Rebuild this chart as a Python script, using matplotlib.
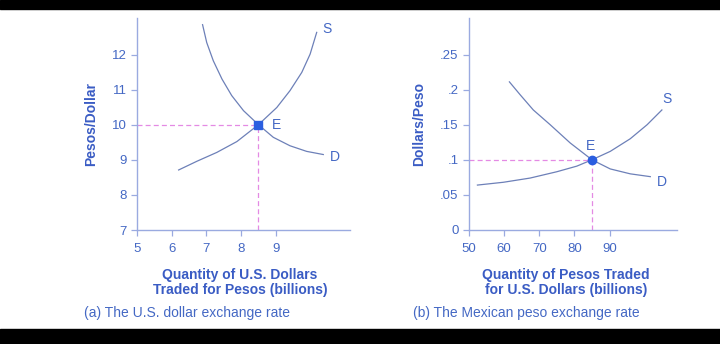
import numpy as np
import matplotlib.pyplot as plt

plt.rcParams["font.family"] = ["Liberation Sans", "DejaVu Sans"]

# --------------------------------------------------------------------------- #
# Data
# --------------------------------------------------------------------------- #
# (a) U.S. dollar market: quantity (billions) vs pesos/dollar
usd_s_x = [6.20, 6.73, 7.30, 7.88, 8.50, 9.03, 9.41, 9.75, 9.99, 10.18]
usd_s_y = [8.71, 8.96, 9.21, 9.52, 10.00, 10.49, 10.97, 11.49, 12.01, 12.63]
usd_d_x = [6.89, 7.01, 7.20, 7.45, 7.73, 8.07, 8.50, 8.93, 9.41, 9.89, 10.37]
usd_d_y = [12.85, 12.34, 11.82, 11.30, 10.83, 10.40, 10.00, 9.64, 9.40, 9.24, 9.15]
usd_eq = (8.5, 10.0)
usd_xticks = [5, 6, 7, 8, 9]
usd_yticks = [7, 8, 9, 10, 11, 12]

# (b) Mexican peso market: quantity (billions) vs dollars/peso
mxn_s_x = [52.4, 59.8, 67.4, 75.0, 80.7, 85.0, 90.2, 95.9, 100.7, 104.9]
mxn_s_y = [0.064, 0.068, 0.074, 0.083, 0.091, 0.100, 0.112, 0.130, 0.150, 0.171]
mxn_d_x = [61.5, 64.5, 68.3, 73.1, 78.8, 85.0, 90.2, 95.9, 101.6]
mxn_d_y = [0.211, 0.193, 0.171, 0.150, 0.124, 0.100, 0.087, 0.080, 0.076]
mxn_eq = (85, 0.1)
mxn_xticks = [50, 60, 70, 80, 90]
mxn_yticks = [0, 0.05, 0.1, 0.15, 0.2, 0.25]
mxn_ylabels = ["0", ".05", ".1", ".15", ".2", ".25"]

# --------------------------------------------------------------------------- #
# Style
# --------------------------------------------------------------------------- #
CURVE = "#6d80b8"
AXIS = "#9aaae0"
TEXT = "#4468c4"
LABEL = "#3a5cc4"
DOT = "#2a5ee0"
DASH = "#e48ae4"
DASHES = (0, (4, 2.5))

fig = plt.figure(figsize=(7.2, 3.44), dpi=100)
fig.patch.set_facecolor("white")

# black letterbox bars top and bottom
fig.add_artist(plt.Rectangle((0, 1 - 9 / 344), 1, 9 / 344, transform=fig.transFigure,
                             color="black", zorder=10))
fig.add_artist(plt.Rectangle((0, 0), 1, 15 / 344, transform=fig.transFigure,
                             color="black", zorder=10))

ax1 = fig.add_axes([137 / 720, 114 / 344, 213 / 720, 212 / 344])
ax2 = fig.add_axes([469 / 720, 114 / 344, 208 / 720, 212 / 344])


def style_axes(ax):
    for side in ["top", "right"]:
        ax.spines[side].set_visible(False)
    for side in ["left", "bottom"]:
        ax.spines[side].set_color(AXIS)
        ax.spines[side].set_linewidth(1.0)
    ax.tick_params(colors=AXIS, labelcolor=TEXT, labelsize=9.5, length=4, width=0.9)
    ax.tick_params(axis="x", pad=5.5)
    ax.set_facecolor("none")


# ---- (a) ----
style_axes(ax1)
ax1.plot(usd_s_x, usd_s_y, color=CURVE, lw=0.9)
ax1.plot(usd_d_x, usd_d_y, color=CURVE, lw=0.9)
ax1.plot([5, usd_eq[0]], [usd_eq[1], usd_eq[1]], color=DASH, lw=0.9, ls=DASHES)
ax1.plot([usd_eq[0], usd_eq[0]], [7, usd_eq[1]], color=DASH, lw=0.9, ls=DASHES)
ax1.plot(*usd_eq, marker="s", ms=5.5, color=DOT, zorder=5)
ax1.text(9.01, 10.0, "E", color=TEXT, fontsize=10, va="center", ha="center")
ax1.text(10.47, 12.72, "S", color=TEXT, fontsize=10, va="center", ha="center")
ax1.text(10.71, 9.09, "D", color=TEXT, fontsize=10, va="center", ha="center")
ax1.set_xlim(5, 11.14)
ax1.set_ylim(7, 13.04)
ax1.set_xticks(usd_xticks)
ax1.set_yticks(usd_yticks)
ax1.set_ylabel("Pesos/Dollar", color=LABEL, fontsize=10, fontweight="bold", labelpad=10)
ax1.set_xlabel("Quantity of U.S. Dollars\nTraded for Pesos (billions)", color=LABEL,
               fontsize=10, fontweight="bold", labelpad=9, linespacing=1.1)
ax1.xaxis.label.set_position((103 / 213, 0))

# ---- (b) ----
style_axes(ax2)
ax2.plot(mxn_s_x, mxn_s_y, color=CURVE, lw=0.9)
ax2.plot(mxn_d_x, mxn_d_y, color=CURVE, lw=0.9)
ax2.plot([50, mxn_eq[0]], [mxn_eq[1], mxn_eq[1]], color=DASH, lw=0.9, ls=DASHES)
ax2.plot([mxn_eq[0], mxn_eq[0]], [0, mxn_eq[1]], color=DASH, lw=0.9, ls=DASHES)
ax2.plot(*mxn_eq, marker="o", ms=6, color=DOT, zorder=5)
ax2.text(84.6, 0.12, "E", color=TEXT, fontsize=10, va="center", ha="center")
ax2.text(106.3, 0.186, "S", color=TEXT, fontsize=10, va="center", ha="center")
ax2.text(104.9, 0.069, "D", color=TEXT, fontsize=10, va="center", ha="center")
ax2.set_xlim(50, 109.2)
ax2.set_ylim(0, 0.302)
ax2.set_xticks(mxn_xticks)
ax2.set_yticks(mxn_yticks)
ax2.set_yticklabels(mxn_ylabels)
ax2.set_ylabel("Dollars/Peso", color=LABEL, fontsize=10, fontweight="bold", labelpad=10)
ax2.set_xlabel("Quantity of Pesos Traded\nfor U.S. Dollars (billions)", color=LABEL,
               fontsize=10, fontweight="bold", labelpad=9, linespacing=1.1)
ax2.xaxis.label.set_position((97 / 208, 0))

# captions
fig.text(84 / 720, 1 - 313 / 344, "(a) The U.S. dollar exchange rate", color=TEXT,
         fontsize=10, va="center", ha="left")
fig.text(413 / 720, 1 - 313 / 344, "(b) The Mexican peso exchange rate", color=TEXT,
         fontsize=10, va="center", ha="left")

fig.savefig("out.png", dpi=100)
